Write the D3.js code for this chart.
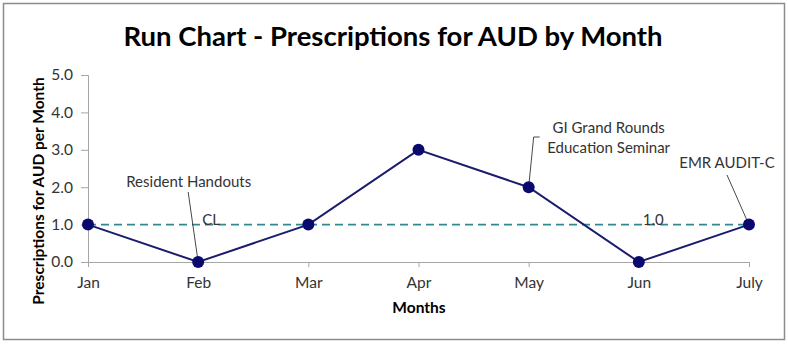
<!DOCTYPE html>
<html><head><meta charset="utf-8">
<script src="https://cdn.jsdelivr.net/npm/d3@7"></script>
<style>body{margin:0;background:#fff}svg{display:block}</style>
</head><body>
<svg id="c" width="788" height="344"></svg>
<script>
const months = ["Jan","Feb","Mar","Apr","May","Jun","July"];
const values = [1,0,1,3,2,0,1];
const centerLine = 1.0;
const yTicks = [0,1,2,3,4,5];
const annotations = [
  {month:"Feb", lines:["Resident Handouts"]},
  {month:"May", lines:["GI Grand Rounds","Education Seminar"]},
  {month:"July", lines:["EMR AUDIT-C"]}
];

const F = "Lato, 'Open Sans', sans-serif";
const svg = d3.select("#c");
svg.append("rect").attr("x",3.5).attr("y",3.5).attr("width",781).attr("height",336)
  .attr("fill","#fff").attr("stroke","#8c8c8c").attr("stroke-width",1.5);

const x = d3.scalePoint().domain(months).range([88,749]);
const y = d3.scaleLinear().domain([0,5]).range([262,75]);

svg.append("text").attr("x",393).attr("y",46).attr("text-anchor","middle")
  .attr("font-family",F).attr("font-weight","bold").attr("font-size",27.5).attr("fill","#000")
  .text("Run Chart - Prescriptions for AUD by Month");

// y axis
const ya = svg.append("g").attr("transform","translate(88,0)")
  .call(d3.axisLeft(y).tickValues(yTicks).tickFormat(d3.format(".1f")).tickSize(7).tickPadding(8));
ya.select(".domain").attr("stroke","#a6a6a6");
ya.selectAll(".tick line").attr("stroke","#a6a6a6");
ya.selectAll("text").attr("font-family",F).attr("font-size",15.5).attr("fill","#333");

// x axis
const xa = svg.append("g").attr("transform","translate(0,262)")
  .call(d3.axisBottom(x).tickSize(5).tickPadding(10).tickSizeOuter(0));
xa.select(".domain").attr("stroke","#a6a6a6");
xa.selectAll(".tick line").attr("stroke","#a6a6a6");
xa.selectAll("text").attr("font-family",F).attr("font-size",15.5).attr("fill","#333");

svg.append("text").attr("transform","translate(44,191) rotate(-90)").attr("text-anchor","middle")
  .attr("font-family",F).attr("font-weight","bold").attr("font-size",15.5).attr("fill","#000")
  .text("Prescriptions for AUD per Month");
svg.append("text").attr("x",419).attr("y",313).attr("text-anchor","middle")
  .attr("font-family",F).attr("font-weight","bold").attr("font-size",15.5).attr("fill","#000")
  .text("Months");

// center line
svg.append("line").attr("x1",x(months[0])).attr("x2",x(months[months.length-1]))
  .attr("y1",y(centerLine)).attr("y2",y(centerLine))
  .attr("stroke","#31898f").attr("stroke-width",1.8).attr("stroke-dasharray","8,5");
svg.append("text").attr("x",x("Feb")+4).attr("y",y(centerLine))
  .attr("font-family",F).attr("font-size",15).attr("fill","#333").text("CL");
svg.append("text").attr("x",x("Jun")+4).attr("y",y(centerLine))
  .attr("font-family",F).attr("font-size",15).attr("fill","#333").text(d3.format(".1f")(centerLine));

// annotations leader lines
const a0 = x("Feb"), a1 = x("May"), a2 = x("July");
svg.append("line").attr("x1",a0-10).attr("y1",192).attr("x2",a0).attr("y2",y(0)).attr("stroke","#333").attr("stroke-width",0.9);
svg.append("polyline").attr("points",`${a1+11},137 ${a1+5},137 ${a1},${y(2)}`).attr("fill","none").attr("stroke","#333").attr("stroke-width",0.9);
svg.append("line").attr("x1",a2-22).attr("y1",175).attr("x2",a2-1).attr("y2",y(1)-2).attr("stroke","#333").attr("stroke-width",0.9);

const ann = [
  {cx:a0-9.5, cy:187, lines:annotations[0].lines},
  {cx:a1+80, cy:133, lines:annotations[1].lines},
  {cx:a2-22, cy:168, lines:annotations[2].lines}
];
ann.forEach(a=>{
  a.lines.forEach((l,i)=>{
    svg.append("text").attr("x",a.cx).attr("y",a.cy+i*20).attr("text-anchor","middle")
      .attr("font-family",F).attr("font-size",15).attr("fill","#333").text(l);
  });
});

// series
const line = d3.line().x((d,i)=>x(months[i])).y(d=>y(d));
svg.append("path").datum(values).attr("d",line).attr("fill","none")
  .attr("stroke","#1c1c6e").attr("stroke-width",2);
svg.selectAll("circle.p").data(values).join("circle").attr("class","p")
  .attr("cx",(d,i)=>x(months[i])).attr("cy",d=>y(d)).attr("r",6).attr("fill","#0a0a6e");
</script>
</body></html>
